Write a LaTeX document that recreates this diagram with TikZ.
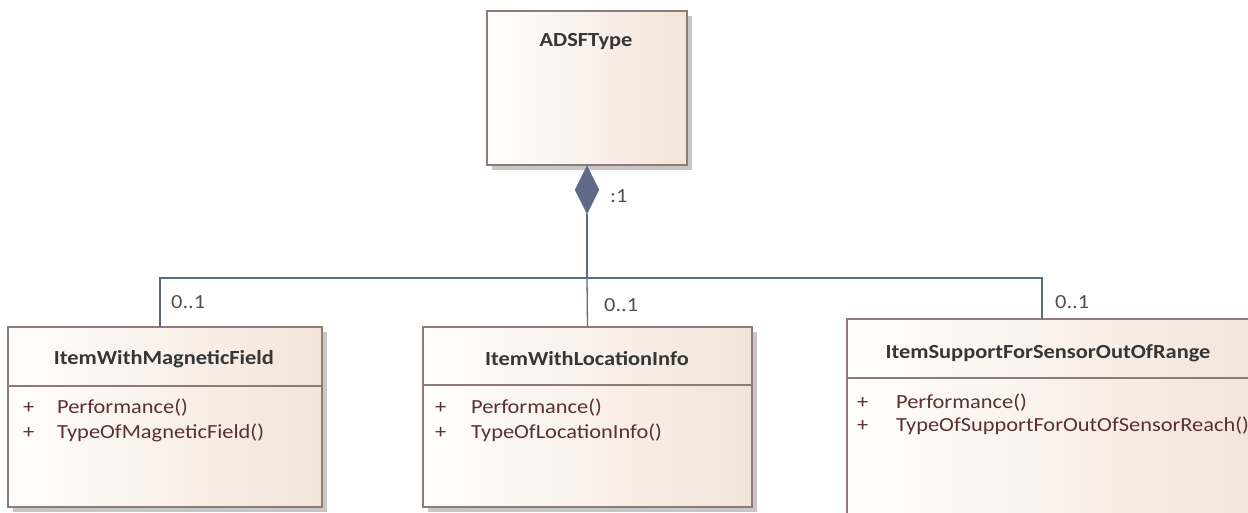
\documentclass[tikz,border=0pt]{standalone}
\usepackage{fontspec}
\setmainfont{Carlito}
\newfontfamily\widefont[FakeStretch=1.12]{Carlito}
\usetikzlibrary{shapes.geometric,calc}
\definecolor{boxline}{HTML}{8E7A78}
\definecolor{conn}{HTML}{5D6A86}
\definecolor{dia}{HTML}{5E6A88}
\definecolor{ttl}{HTML}{363636}
\definecolor{mem}{HTML}{5A3030}
\definecolor{lbl}{HTML}{505050}
\definecolor{fillL}{HTML}{FFFEFD}
\definecolor{fillR}{HTML}{F4E4D8}
\tikzset{
  classbox/.style={draw=boxline, line width=1.3pt, shading=axis, left color=fillL, right color=fillR, shading angle=90, inner sep=0pt},
  shadowbox/.style={fill=black!22, draw=none},
  title/.style={text=ttl, font=\widefont\fontsize{20}{24}\selectfont\bfseries, inner sep=0pt},
  member/.style={text=mem, font=\widefont\fontsize{20}{24}\selectfont, inner sep=0pt, anchor=west},
  mult/.style={text=lbl, font=\widefont\fontsize{20}{24}\selectfont, inner sep=0pt, anchor=west},
  conline/.style={draw=conn, line width=1.3pt},
  divider/.style={draw=boxline, line width=1.3pt}
}
\begin{document}
\begin{tikzpicture}[x=1pt,y=-1pt]
\useasboundingbox (0,0) rectangle (1248,512);
\clip (0,0) rectangle (1248,512);
% shadows
\fill[shadowbox] (492,16) rectangle (692,170);
\fill[shadowbox] (13,332) rectangle (327,512);
\fill[shadowbox] (428,332) rectangle (757,512);
\fill[shadowbox] (852,324) rectangle (1266,535);
% boxes
\node[classbox, minimum width=200pt, minimum height=154pt] (adsf) at (587,88) {};
\node[classbox, minimum width=314pt, minimum height=180pt] (c1) at (165,417) {};
\node[classbox, minimum width=329pt, minimum height=180pt] (c2) at (587.5,417) {};
\node[classbox, minimum width=415pt, minimum height=211pt] (c3) at (1054.5,424.5) {};
% dividers
\draw[divider] (8,386) -- (322,386);
\draw[divider] (423,385) -- (752,385);
\draw[divider] (847,378) -- (1262,378);
% titles
\node[title] (t0) at (586,42) {ADSFType};
\node[title] (t1) at (164,359) {ItemWithMagneticField};
\node[title] (t2) at (587,359) {ItemWithLocationInfo};
\node[title] (t3) at (1048,353) {ItemSupportForSensorOutOfRange};
% members
\node[member] (p1a) at (23,408) {+};
\node[member] (m1a) at (57,408) {Performance()};
\node[member] (p1b) at (23,433) {+};
\node[member] (m1b) at (57,433) {TypeOfMagneticField()};
\node[member] (p2a) at (435,408) {+};
\node[member] (m2a) at (471,408) {Performance()};
\node[member] (p2b) at (435,433) {+};
\node[member] (m2b) at (471,433) {TypeOfLocationInfo()};
\node[member] (p3a) at (857,403) {+};
\node[member] (m3a) at (896,403) {Performance()};
\node[member] (p3b) at (857,426) {+};
\node[member] (m3b) at (896,426) {TypeOfSupportForOutOfSensorReach()};
% connectors
\node[diamond, fill=dia, draw=dia, minimum width=24pt, minimum height=48pt, inner sep=0pt, anchor=north] (dm) at (adsf.south) {};
\coordinate (jn) at (587,278);
\coordinate (e1) at (160,327);
\coordinate (e3) at (1042,319);
\draw[conline] (dm.south) -- (jn);
\draw[conline] (jn) -| (e1);
\draw[conline] (jn) -- (c2.north);
\draw[conline] (jn) -| (e3);
% labels
\node[mult] (l0) at (610,196) {:1};
\node[mult] (l1) at (171,302) {0..1};
\node[mult] (l2) at (604,305) {0..1};
\node[mult] (l3) at (1055,302) {0..1};
\end{tikzpicture}
\end{document}
